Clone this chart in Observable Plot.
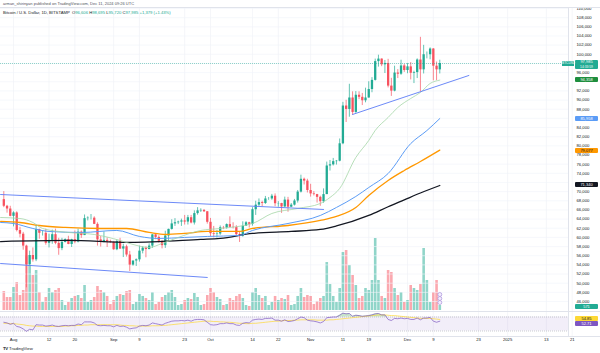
<!DOCTYPE html>
<html><head><meta charset="utf-8">
<script src="https://cdn.jsdelivr.net/npm/d3@7"></script>
<script src="https://cdn.jsdelivr.net/npm/@observablehq/plot@0.6"></script>
<style>
html,body{margin:0;padding:0;background:#fff;}
#wrap{position:relative;width:600px;height:353px;overflow:hidden;font-family:"Liberation Sans",Arial,sans-serif;color:#131722;}
#wrap svg{position:absolute;left:0;top:0;}
.abs{position:absolute;white-space:nowrap;}
.tag{position:absolute;left:575px;width:23px;height:5px;font-size:4px;line-height:5px;text-align:center;border-radius:1px;}
</style></head><body><div id="wrap"></div>
<script>
// ---------- DATA ----------
const firstDay = "2024-07-29", lastDay = "2024-12-11";
const opens = [68250,66800,66200,
64600,65350,61500,60700,58100,54000,56050,55100,61700,60900,60900,58700,59350,60600,58700,57550,58900,59500,58450,59500,59000,61150,60400,64100,64200,64200,62850,59450,59000,59350,59100,
58950,57300,59100,57450,57950,56150,53950,54850,55100,57000,57650,57350,58100,60550,60000,59150,58200,60300,61750,62950,63200,63350,63600,63350,64300,63150,65200,65800,65900,65600,
63300,60800,60650,60750,62100,62050,62800,62200,62150,60600,60300,62450,63200,62850,66050,67050,67600,67400,68400,68400,69000,67350,67400,66650,68150,66600,67050,67950,69900,72700,72300,
70250,69500,69350,68750,67800,69350,75600,75850,76550,76650,80450,88700,87950,90450,87300,91050,90600,89850,90450,92300,94300,98400,98950,97700,98000,93050,91950,95900,95650,97450,
96450,97250,95850,96000,98750,96600,99900,99900,101150,97400,96600];
const highs = [70000,67000,66800,
65600,65600,62200,61100,58300,57000,57700,62700,61800,61450,61800,60700,61600,61800,59800,59800,59700,60250,59600,61400,61800,61400,64900,64500,65000,64500,63200,60200,61200,59900,59400,
59000,59400,59800,58500,58300,56950,54800,55300,58100,58000,57950,58600,60650,60650,60350,59200,61350,61800,63850,64100,63550,64000,64800,64800,64800,65800,66500,66250,66100,65650,
64150,62400,61500,62500,62400,62950,64500,63200,62550,61300,63400,63450,63300,66500,67900,68400,67900,68950,68700,69400,69500,67800,67450,68800,68750,67400,68300,70250,73600,72950,72700,
71600,70000,69400,69000,70600,76450,76800,77250,76800,81500,89500,89950,93450,91800,91850,91800,91450,92600,94000,94900,98950,99800,99000,98650,98900,94750,97400,96650,98700,97800,
98000,98200,96300,99000,103700,101950,100500,101400,101250,98300,98700];
const lows = [66500,65300,64500,
62300,61200,59900,57200,49000,53900,54600,54700,59600,60300,58300,57700,58500,58400,56100,57100,58800,58400,57800,58600,58800,59800,60400,63600,63800,62800,58100,57900,58800,57800,58700,
57200,57100,57400,55600,55700,52550,53700,53650,54600,56400,55550,57300,57600,59500,58750,57500,57600,59200,61600,62400,62800,62400,62700,62700,62950,62700,64850,65450,65450,62900,
60200,59900,59850,60450,61700,61800,62150,61850,60300,58900,60050,62450,62050,62450,64800,66750,66700,67200,68100,68100,66700,66600,65250,66500,65500,66500,66850,67500,69700,71450,69700,
68800,69050,67500,66800,67450,69350,74500,75600,75800,76500,80250,85100,86250,86700,87100,90100,88800,89400,90400,91600,94150,97200,97300,95800,92650,90800,91800,94700,95400,96050,
95750,94400,93600,94700,91800,95700,99000,98800,94200,94250,95700];
const closes = [66800,66200,64600,
65350,61500,60700,58100,54000,56050,55100,61700,60900,60900,58700,59350,60600,58700,57550,58900,59500,58450,59500,59000,61150,60400,64100,64200,64200,62850,59450,59000,59350,59100,58950,
57300,59100,57450,57950,56150,53950,54850,55100,57000,57650,57350,58100,60550,60000,59150,58200,60300,61750,62950,63200,63350,63600,63350,64300,63150,65200,65800,65900,65600,63300,
60800,60650,60750,62100,62050,62800,62200,62150,60600,60300,62450,63200,62850,66050,67050,67600,67400,68400,68400,69000,67350,67400,66650,68150,66600,67050,67950,69900,72700,72300,70250,
69500,69350,68750,67800,69350,75600,75850,76550,76650,80450,88700,87950,90450,87300,91050,90600,89850,90450,92300,94300,98400,98950,97700,98000,93050,91950,95900,95650,97450,96450,
97250,95850,96000,98750,96600,99900,99900,101150,97400,96600,97985];
const volumes = [2170,1480,1480,
2620,3190,1710,2280,6270,5130,3990,4560,2050,910,1480,2510,2050,2280,2510,1140,570,910,1370,1600,
1710,1370,2850,910,1140,1480,2740,2280,2050,1600,680,
1140,1600,1820,1710,2170,2280,680,910,1820,1600,1370,1140,2050,680,910,1480,1710,2050,2280,1480,570,680,1140,1370,1250,1940,1480,570,680,
1710,2510,2050,1480,1250,570,680,1370,1140,1600,1820,1370,570,460,2050,2510,1710,1370,1600,570,910,1600,1140,1370,1250,1710,570,680,1600,2510,1480,1710,
1600,680,1030,1370,1600,5470,2960,1600,910,2510,6610,6840,5130,3990,2850,1370,1600,2510,2280,3420,8210,3420,1600,1370,4560,4330,2510,1710,2050,
910,1140,2850,2510,2280,2960,7070,3420,910,2050,3420,571];
const rsiVals = [55,53,49,52,43,41,36,29,35,33,48,47,47,44,45,47,44,43,45,46,45,46,46,50,48,56,56,56,53,46,45,46,45,45,
42,46,43,44,41,36,38,39,44,46,45,47,53,51,49,47,52,55,58,59,59,60,59,61,58,62,63,63,62,55,
48,47,48,51,51,53,51,51,47,46,52,54,53,61,63,64,63,66,66,67,61,61,58,62,57,58,60,65,70,68,61,
59,58,56,53,57,68,69,70,70,75,81,79,80,72,75,74,72,73,74,76,79,80,76,76,63,60,66,65,67,65,
66,63,63,67,62,67,67,69,58,55,58];
const rsiMaVals = [52,52,51,51,50,49,48,46,45,44,44,43,43,43,43,43,43,43,43,44,44,45,45,46,46,47,47,48,48,48,48,48,48,48,
48,48,47,46,46,45,45,44,44,44,44,44,45,45,45,46,46,47,48,49,50,51,52,53,54,55,56,57,58,58,
58,57,57,56,56,55,55,54,53,52,52,51,51,52,52,53,54,55,56,57,58,58,59,60,60,60,61,61,62,62,62,
62,62,61,61,61,61,62,62,63,64,65,66,67,68,69,70,71,72,73,74,75,76,76,76,75,74,74,73,72,71,
70,69,68,67,66,66,66,66,65,64,63];
const ma20 = [["2024-07-28",64350],["2024-08-03",64130],["2024-08-07",63260],["2024-08-10",61950],["2024-08-18",61080],["2024-08-26",60640],["2024-09-03",59330],["2024-09-07",58460],["2024-09-12",57800],["2024-09-16",58680],["2024-09-21",59990],["2024-09-28",61520],["2024-10-04",61950],["2024-10-14",63040],["2024-10-20",65230],["2024-10-28",66320],["2024-11-04",67410],["2024-11-07",68720],["2024-11-10",70690],["2024-11-15",77460],["2024-11-19",81170],["2024-11-21",83360],["2024-11-25",86200],["2024-11-28",88380],["2024-12-02",90350],["2024-12-05",91660],["2024-12-08",93620],["2024-12-11",94358]];
const ma50 = [["2024-07-28",63260],["2024-08-01",63040],["2024-08-07",61950],["2024-08-12",61300],["2024-08-22",61080],["2024-09-02",61520],["2024-09-09",60210],["2024-09-15",59770],["2024-09-23",59990],["2024-09-30",60210],["2024-10-10",60430],["2024-10-14",61520],["2024-10-25",63040],["2024-11-04",64790],["2024-11-09",66540],["2024-11-15",68940],["2024-11-19",70900],["2024-11-25",73950],["2024-12-02",80500],["2024-12-07",83340],["2024-12-11",85958]];
const ma100 = [["2024-07-28",63480],["2024-08-03",63260],["2024-08-09",62600],["2024-08-17",62170],["2024-08-28",61950],["2024-09-05",61950],["2024-09-12",61080],["2024-09-17",60640],["2024-09-23",60860],["2024-09-30",61300],["2024-10-10",61300],["2024-10-14",61950],["2024-10-25",62600],["2024-11-04",63700],["2024-11-09",64570],["2024-11-15",66540],["2024-11-19",69160],["2024-11-25",72440],["2024-11-30",74620],["2024-12-05",76590],["2024-12-11",79077]];
const ma200 = [["2024-07-28",59100],["2024-08-18",59330],["2024-09-06",58900],["2024-09-28",59550],["2024-10-04",59770],["2024-10-14",60860],["2024-10-26",61300],["2024-11-04",61740],["2024-11-09",62500],["2024-11-19",64800],["2024-11-25",66700],["2024-11-30",68200],["2024-12-05",69700],["2024-12-11",71340]];
const channelUpper = [["2024-07-28",69370],["2024-11-05",66100]];
const channelLower = [["2024-07-28",54300],["2024-09-30",51250]];
const supportLine = [["2024-11-14",86850],["2024-12-20",95370]];
const priceTicks = [110000,108000,106000,104000,102000,100000,96000,92000,90000,88000,84000,82000,80000,78000,76000,74000,70000,68000,66000,64000,62000,60000,58000,56000,54000,52000,50000,48000,46000];
const gridTicks = [110000,108000,106000,104000,102000,100000,98000,96000,94000,92000,90000,88000,86000,84000,82000,80000,78000,76000,74000,72000,70000,68000,66000,64000,62000,60000,58000,56000,54000,52000,50000,48000,46000];
const xTickDates = ["2024-08-01","2024-08-12","2024-08-20","2024-09-01","2024-09-09","2024-09-23","2024-10-01","2024-10-14","2024-10-22","2024-11-01","2024-11-11","2024-11-19","2024-12-01","2024-12-09","2024-12-23","2025-01-01","2025-01-13","2025-01-21"];
const xTickLabels = ["Aug","12","20","Sep","9","23","Oct","14","22","Nov","11","19","Dec","9","23","2025","13","21"];
const rsiLevels = [70,30];
const rsiBand = [{lo:30,hi:70}];
const eventMarks = [{date:"2024-12-11", kind:"idea"},{date:"2024-12-11", kind:"news"},{date:"2024-12-11", kind:"flag"}];
const tagValues = {last:97985, ma20:94358, ma50:85958, ma100:79077, ma200:71340, vol:571, rsiMa:54.85, rsi:52.71};

// ---------- BUILD ----------
const UP = "#22ab94", DOWN = "#f7525f";
const days = d3.utcDay.range(new Date(firstDay), d3.utcDay.offset(new Date(lastDay), 1));
const rows = days.map((date,i)=>({date,o:opens[i],h:highs[i],l:lows[i],c:closes[i],v:volumes[i],rsi:rsiVals[i],rsiMa:rsiMaVals[i]}));
const toPts = a => a.map(([d,p])=>({date:new Date(d),price:p}));
const xTicks = xTickDates.map((d,i)=>({date:new Date(d),label:xTickLabels[i]}));
const xOpt = {type:"utc", domain:[new Date("2024-08-01"), new Date("2024-12-01")], range:[13,407], axis:null};
const fmt = d3.format(",");
const col = d => d.c >= d.o ? UP : DOWN;
const colV = d => d.c >= d.o ? "rgba(34,171,148,0.5)" : "rgba(247,82,95,0.5)";
const baseStyle = {background:"transparent", overflow:"visible", fontFamily:"Liberation Sans, Arial, sans-serif", fontSize:"4.2px"};

const wrap = document.getElementById("wrap");

const bg = Plot.plot({width:600,height:353,marginLeft:0,marginRight:32,marginTop:7,marginBottom:17,
  x:xOpt, y:{axis:null}, style:baseStyle,
  marks:[Plot.ruleX(xTicks,{x:"date",stroke:"#eef0f5",strokeWidth:0.6})]});
wrap.appendChild(bg);

const vol = Plot.plot({width:600,height:353,margin:0,marginRight:32,
  x:xOpt, y:{domain:[0,10000], range:[310,222.3], axis:null}, style:baseStyle,
  marks:[Plot.ruleX(rows,{x:"date",y1:0,y2:"v",stroke:colV,strokeWidth:2.6})]});
wrap.appendChild(vol);

const rsi = Plot.plot({width:600,height:353,margin:0,marginRight:32,
  x:xOpt, y:{domain:[30,70], range:[330.5,316.5], axis:null}, style:baseStyle,
  marks:[
    Plot.rect(rsiBand,{y1:"lo",y2:"hi",fill:"#7e57c2",fillOpacity:0.1}),
    Plot.ruleY(rsiLevels,{stroke:"#9598a1",strokeDasharray:"1 1",strokeWidth:0.5}),
    Plot.areaY(rows,{x:"date",y1:70,y2:d=>Math.max(d.rsi,70),fill:"#4caf50",fillOpacity:0.3,curve:"linear"}),
    Plot.line(rows,{x:"date",y:"rsiMa",stroke:"#fdd835",strokeWidth:0.7}),
    Plot.line(rows,{x:"date",y:"rsi",stroke:"#7e57c2",strokeWidth:0.7})
  ]});
wrap.appendChild(rsi);

const main = Plot.plot({width:600,height:353,marginLeft:0,marginRight:32,marginTop:0,marginBottom:0,
  x:xOpt, y:{domain:[46000,110000], range:[301,8], axis:null}, style:baseStyle,
  marks:[
    Plot.ruleY(gridTicks,{stroke:"#f0f3fa",strokeWidth:0.6}),
    Plot.ruleX(rows,{x:"date",y1:"l",y2:"h",stroke:col,strokeWidth:0.7}),
    Plot.ruleX(rows,{x:"date",y1:"o",y2:"c",stroke:col,strokeWidth:2.3}),
    Plot.line(toPts(ma200),{x:"date",y:"price",stroke:"#131722",strokeWidth:1.3,curve:"monotone-x"}),
    Plot.line(toPts(ma100),{x:"date",y:"price",stroke:"#ff9800",strokeWidth:1.3,curve:"monotone-x"}),
    Plot.line(toPts(ma50),{x:"date",y:"price",stroke:"#5b9cf6",strokeWidth:1,curve:"monotone-x"}),
    Plot.line(toPts(ma20),{x:"date",y:"price",stroke:"#a5d6a7",strokeWidth:0.8,curve:"monotone-x"}),
    Plot.line(toPts(channelUpper),{x:"date",y:"price",stroke:"#5b7cf6",strokeWidth:0.9}),
    Plot.line(toPts(channelLower),{x:"date",y:"price",stroke:"#5b7cf6",strokeWidth:0.9}),
    Plot.line(toPts(supportLine),{x:"date",y:"price",stroke:"#5b7cf6",strokeWidth:0.9}),
    Plot.ruleY([tagValues.last],{stroke:UP,strokeDasharray:"0.8 1.2",strokeWidth:0.6}),
    Plot.text(priceTicks,{y:d=>d,text:d=>fmt(d),frameAnchor:"right",dx:8,textAnchor:"start",fill:"#131722"}),
    Plot.text(xTicks,{x:"date",text:"label",frameAnchor:"bottom",dy:-12.5,fill:"#131722"})
  ]});
wrap.appendChild(main);

// event markers on the last bar (volume pane)
const ev = Plot.plot({width:600,height:353,margin:0,marginRight:32,
  x:xOpt, y:{type:"point", domain:["idea","news","flag"], range:[291,304], axis:null}, style:baseStyle,
  marks:[Plot.dot(eventMarks.map(d=>({...d,date:new Date(d.date)})),{x:"date",y:"kind",r:2,stroke:"#9c7fd6",strokeWidth:0.6,fill:"#f3eefc"})]});
wrap.appendChild(ev);

// ---------- HTML overlays ----------
function div(cls, css, html){const e=document.createElement("div");e.className=cls;e.style.cssText=css;e.innerHTML=html;wrap.appendChild(e);return e;}
div("abs","left:0;top:7px;width:600px;height:0;border-top:0.6px solid #e0e3eb;","");
div("abs","left:568px;top:7px;width:0;height:329px;border-left:0.6px solid #e0e3eb;","");
div("abs","left:0;top:311px;width:600px;height:0;border-top:0.6px solid #e0e3eb;","");
div("abs","left:0;top:336px;width:600px;height:0;border-top:0.6px solid #e0e3eb;","");
div("abs","left:3px;top:1px;font-size:4px;color:#50535e;","arman_shirinyan published on TradingView.com, Dec 11, 2024 09:26 UTC");
div("abs","left:3px;top:9.5px;font-size:4.2px;color:#131722;",
 "Bitcoin / U.S. Dollar, 1D, BITSTAMP &nbsp;O<span style='color:"+UP+"'>96,606</span> H<span style='color:"+UP+"'>98,695</span> L<span style='color:"+UP+"'>95,720</span> C<span style='color:"+UP+"'>97,985</span> <span style='color:"+UP+"'>+1,379 (+1.43%)</span>");
div("abs","left:3px;top:346px;font-size:4.3px;color:#131722;font-weight:bold;","<span style='letter-spacing:-0.3px'>TV</span> <span style='font-weight:normal'>TradingView</span>");
const yS = main.scale("y"), vS = vol.scale("y"), rS = rsi.scale("y");
function tag(y, text, bg, fg, h){h=h||5;div("tag",`top:${y-h/2}px;height:${h}px;line-height:${h}px;background:${bg};color:${fg};`,text);}
tag(yS.apply(tagValues.last)+1.5, "<div style='line-height:4.5px;padding-top:0.3px'>97,985<br><span style='font-size:3.3px'>14:33:59</span></div>", UP, "#fff", 9);
div("abs",`left:562px;top:${yS.apply(tagValues.last)-2.5}px;width:12px;height:5px;background:${UP};color:#fff;font-size:3.2px;line-height:5px;text-align:center;`,"BTCUSD");
tag(yS.apply(tagValues.ma20), "94,358", "#1e8e3e", "#fff");
tag(yS.apply(tagValues.ma50), "85,958", "#5b9cf6", "#fff");
tag(yS.apply(tagValues.ma100)+1, "79,077", "#ff9800", "#131722");
tag(yS.apply(tagValues.ma200), "71,340", "#131722", "#fff");
tag(vS.apply(tagValues.vol)+1.5, "571", "#22ab94", "#fff");
tag(rS.apply(tagValues.rsiMa)-3.5, "54.85", "#fdd835", "#131722");
tag(rS.apply(tagValues.rsi)+0.5, "52.71", "#7e57c2", "#fff");
</script></body></html>
